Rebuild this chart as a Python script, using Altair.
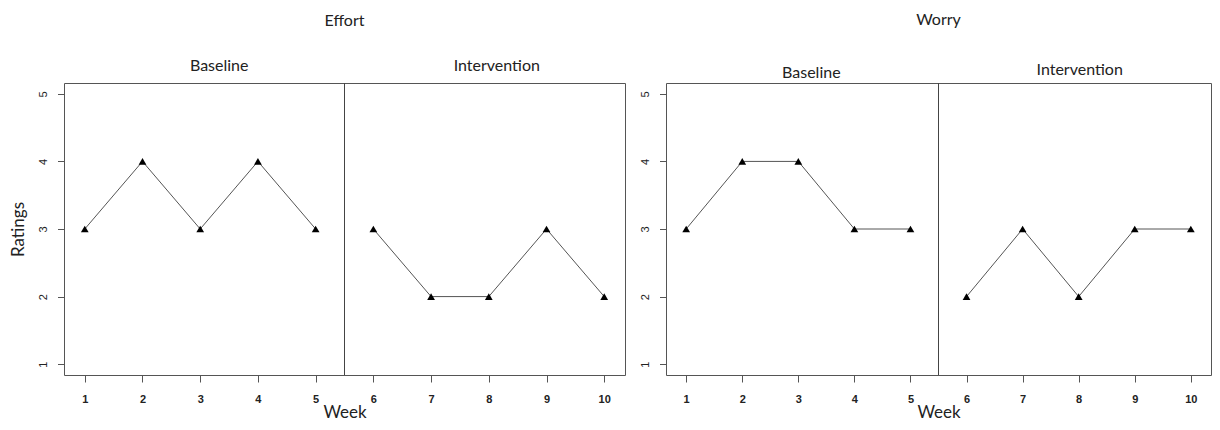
import altair as alt
import pandas as pd

weeks = [1, 2, 3, 4, 5, 6, 7, 8, 9, 10]
phases = ["Baseline"] * 5 + ["Intervention"] * 5
effort = [3, 4, 3, 4, 3, 3, 2, 2, 3, 2]
worry = [3, 4, 4, 3, 3, 2, 3, 2, 3, 3]
phase_change = [5.5]
y_ticks = [1, 2, 3, 4, 5]

FRAME = "#555555"
TXT = "#222222"


def panel(values, title, width, y_title, label_y, label_dx, title_offset):
    df = pd.DataFrame({"Week": weeks, "Rating": values, "Phase": phases})
    xs = alt.Scale(domain=[0.64, 10.36], nice=False, zero=False)
    ys = alt.Scale(domain=[0.84, 5.16], nice=False, zero=False)

    xaxis = alt.Axis(values=weeks, title="Week", grid=False, domain=False,
                     format="d",
                     tickColor=FRAME, tickSize=7,
                     labelFont="Liberation Sans", labelFontWeight="bold",
                     labelFontSize=11, labelColor=TXT, labelPadding=11,
                     labelFlush=False,
                     titleFont="Lato", titleFontSize=17, titleFontWeight="normal",
                     titleColor=TXT, titlePadding=0)
    ykw = dict(values=y_ticks, grid=False, domain=False, format="d",
               tickColor=FRAME, tickSize=6.5,
               labelAngle=-90, labelAlign="center", labelBaseline="bottom",
               labelFont="Liberation Sans", labelFontSize=11, labelColor=TXT,
               labelPadding=9, labelFlush=False)
    if y_title:
        ykw.update(title=y_title, titleFont="Lato", titleFontSize=17,
                   titleFontWeight="normal", titleColor=TXT, titlePadding=10)
    else:
        ykw.update(title=None)
    yaxis = alt.Axis(**ykw)
    ytitle = y_title if y_title else None

    base = alt.Chart(df)
    rule = alt.Chart(pd.DataFrame({"change": phase_change})).mark_rule(
        color="#444444", strokeWidth=1).encode(
        x=alt.X("change:Q", scale=xs, axis=xaxis, title="Week"),
    )
    line = base.mark_line(color="#555555", strokeWidth=1).encode(
        x=alt.X("Week:Q", scale=xs, axis=xaxis, title="Week"),
        y=alt.Y("Rating:Q", scale=ys, axis=yaxis, title=ytitle),
        detail="Phase:N",
    )
    pts = base.mark_point(shape="triangle-up", filled=True, size=60,
                          color="black", opacity=1).encode(
        x=alt.X("Week:Q", scale=xs, axis=xaxis, title="Week"),
        y=alt.Y("Rating:Q", scale=ys, axis=yaxis, title=ytitle),
    )
    layers = [rule, line, pts]
    for ph, dx in label_dx.items():
        layers.append(
            base.transform_filter(alt.datum.Phase == ph).mark_text(
                font="Lato", fontSize=16, baseline="middle", color=TXT,
                dx=dx).encode(
                x=alt.X("mean(Week):Q", scale=xs, axis=xaxis, title="Week"),
                y=alt.value(label_y[ph]),
                text="Phase:N",
            )
        )
    ch = alt.layer(*layers).properties(
        width=width, height=292,
        title=alt.TitleParams(title, frame="group", anchor="middle",
                              offset=title_offset,
                              font="Lato", fontSize=16, fontWeight="normal",
                              color=TXT),
    )
    return ch


left = panel(effort, "Effort", 561, "Ratings",
             {"Baseline": -17, "Intervention": -17},
             {"Baseline": 19, "Intervention": 8}, 29)
right = panel(worry, "Worry", 545, None,
              {"Baseline": -10, "Intervention": -13},
              {"Baseline": 13, "Intervention": 1}, 34)

chart = alt.hconcat(left, right, spacing=13).properties(
    padding={"left": 1, "top": 3, "right": 0, "bottom": 0}
).configure_view(stroke=FRAME, strokeWidth=1)

chart.save("out.html", embed_options={"renderer": "svg", "actions": False})
